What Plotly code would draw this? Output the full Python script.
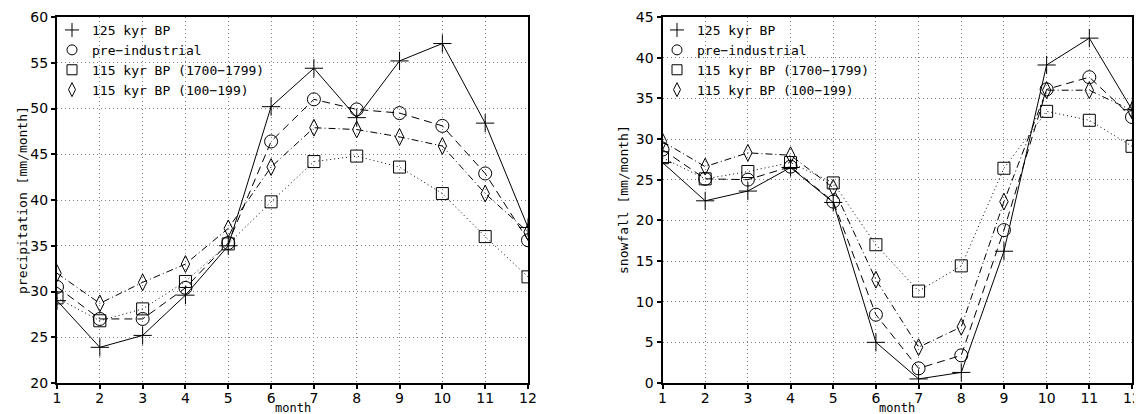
import plotly.graph_objects as go

months = list(range(1, 13))

series_names = ["125 kyr BP", "pre−industrial", "115 kyr BP (1700−1799)", "115 kyr BP (100−199)"]

precip_125 = [29.0, 23.9, 25.2, 29.6, 35.0, 50.2, 54.4, 49.0, 55.2, 57.1, 48.4, 37.0]
precip_pi = [30.5, 27.0, 27.0, 30.4, 35.3, 46.4, 51.0, 49.9, 49.5, 48.1, 42.9, 35.6]
precip_115_1700 = [29.3, 26.8, 28.1, 31.1, 35.2, 39.8, 44.2, 44.8, 43.6, 40.7, 36.0, 31.6]
precip_115_100 = [32.0, 28.7, 31.0, 33.0, 36.9, 43.6, 47.9, 47.7, 46.9, 45.9, 40.7, 36.5]

snow_125 = [27.1, 22.4, 23.6, 26.5, 22.2, 5.0, 0.5, 1.3, 16.2, 39.1, 42.4, 33.6]
snow_pi = [28.7, 25.1, 25.0, 26.6, 22.3, 8.4, 1.8, 3.4, 18.8, 36.1, 37.6, 32.7]
snow_115_1700 = [27.7, 25.1, 26.0, 27.1, 24.6, 17.0, 11.3, 14.4, 26.4, 33.4, 32.3, 29.1]
snow_115_100 = [29.7, 26.6, 28.3, 28.0, 24.0, 12.7, 4.4, 6.9, 22.3, 36.0, 36.0, 33.5]

styles = [
    dict(dash="solid", symbol="cross-thin-open", size=13, lsize=10),
    dict(dash="8px,5px", symbol="circle-open", size=13, lsize=10),
    dict(dash="1px,3px", symbol="square-open", size=12, lsize=10),
    dict(dash="7px,3px,1px,3px", symbol="diamond-tall-open", size=12, lsize=10),
]

# The page body has an 8px default margin; the figure is sized to fit the window.
OFF = 8
W, H = 1142 - OFF, 414 - OFF


def px(v):
    return (v - OFF) / W


def py(v):
    return 1 - (v - OFF) / H


fig = go.Figure()

panels = [
    ("x", "y", "legend", [precip_125, precip_pi, precip_115_1700, precip_115_100]),
    ("x2", "y2", "legend2", [snow_125, snow_pi, snow_115_1700, snow_115_100]),
]

for xa, ya, lg, data in panels:
    for name, vals, st in zip(series_names, data, styles):
        fig.add_trace(go.Scatter(
            x=months, y=vals, xaxis=xa, yaxis=ya, name=name, legend=lg,
            mode="lines+markers",
            line=dict(color="black", width=1, dash=st["dash"]),
            marker=dict(symbol=st["symbol"], size=st["size"], color="black",
                        line=dict(color="black", width=1)),
            showlegend=False,
        ))
    for name, st in zip(series_names, styles):
        fig.add_trace(go.Scatter(
            x=[None], y=[None], xaxis=xa, yaxis=ya, name=name, legend=lg,
            mode="markers",
            marker=dict(symbol=st["symbol"], size=st["lsize"], color="black",
                        line=dict(color="black", width=1)),
            showlegend=True,
        ))

ydom = [py(383), py(17)]
axis_common = dict(
    showline=True, linecolor="black", linewidth=2, mirror=True,
    ticks="outside", ticklen=4, tickwidth=1.5, tickcolor="black",
    showgrid=True, gridcolor="#808080", gridwidth=1, griddash="1px,3px",
    zeroline=False, automargin=False,
    tickfont=dict(family="DejaVu Sans", size=14, color="black"),
)
xaxis_extra = dict(range=[1, 12], dtick=1, tick0=1, ticklabelstandoff=-3)

legend_font = dict(family="DejaVu Sans Mono", size=13, color="black")
title_font = dict(family="DejaVu Sans Mono", size=12, color="black")
ytitle_font = dict(family="DejaVu Sans Mono", size=13, color="black")

fig.update_layout(
    width=W, height=H, autosize=False,
    margin=dict(l=0, r=0, t=0, b=0, pad=0),
    paper_bgcolor="white", plot_bgcolor="white",
    xaxis=dict(domain=[px(57), px(528)], anchor="y", **xaxis_extra, **axis_common),
    yaxis=dict(domain=ydom, range=[20, 60], dtick=5, anchor="x", **axis_common),
    xaxis2=dict(domain=[px(662.5), px(1132)], anchor="y2", **xaxis_extra, **axis_common),
    yaxis2=dict(domain=ydom, range=[0, 45], dtick=5, anchor="x2", **axis_common),
    legend=dict(x=px(52), y=py(15), xanchor="left", yanchor="top",
                bgcolor="rgba(0,0,0,0)", borderwidth=0, itemwidth=30, font=legend_font),
    legend2=dict(x=px(657), y=py(15), xanchor="left", yanchor="top",
                 bgcolor="rgba(0,0,0,0)", borderwidth=0, itemwidth=30, font=legend_font),
    annotations=[
        dict(text="month", x=px(292.5), y=py(407.5), xref="paper", yref="paper",
             xanchor="center", yanchor="middle", showarrow=False, font=title_font),
        dict(text="month", x=px(897), y=py(407.5), xref="paper", yref="paper",
             xanchor="center", yanchor="middle", showarrow=False, font=title_font),
        dict(text="precipitation [mm/month]", x=px(22), y=py(200), xref="paper", yref="paper",
             xanchor="center", yanchor="middle", showarrow=False, textangle=-90, font=ytitle_font),
        dict(text="snowfall [mm/month]", x=px(623), y=py(200), xref="paper", yref="paper",
             xanchor="center", yanchor="middle", showarrow=False, textangle=-90, font=ytitle_font),
    ],
)

fig.write_html("out.html")
